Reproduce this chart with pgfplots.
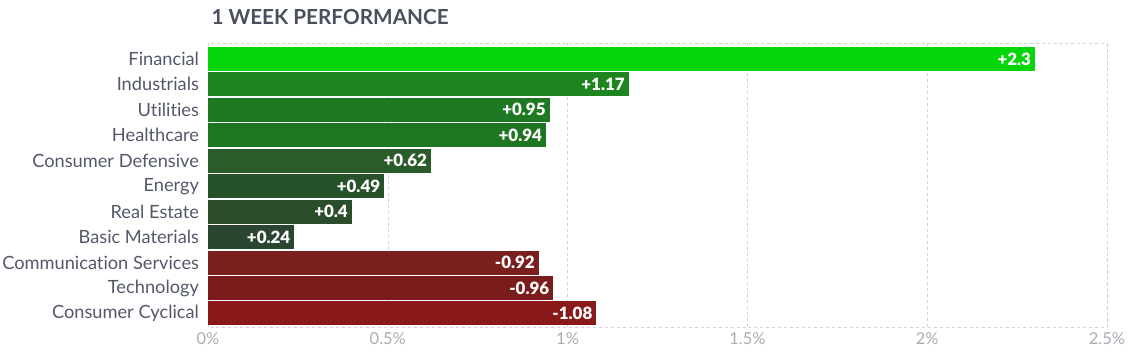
\documentclass[border=0pt]{standalone}
\usepackage{pgfplots}
\pgfplotsset{compat=1.18}
\usepackage{fontspec}
\setmainfont[Ligatures=NoCommon]{Lato}
\newfontfamily\heavyfont[Ligatures=NoCommon]{Lato Black}
\definecolor{cFin}{HTML}{04D60A}
\definecolor{cInd}{HTML}{1E8420}
\definecolor{cUti}{HTML}{1E7A22}
\definecolor{cHea}{HTML}{1F7620}
\definecolor{cCDe}{HTML}{2A5C2A}
\definecolor{cEne}{HTML}{275229}
\definecolor{cRea}{HTML}{2A4E2C}
\definecolor{cBas}{HTML}{2B4630}
\definecolor{cCom}{HTML}{7A1E1E}
\definecolor{cTec}{HTML}{7B1C1C}
\definecolor{cCyc}{HTML}{8A1A1A}
\definecolor{lblgray}{HTML}{535869}
\definecolor{tickgray}{HTML}{ABABB3}
\definecolor{titlegray}{HTML}{4A4F5E}
\definecolor{gridgray}{HTML}{D2D2D2}
\begin{document}
\begin{tikzpicture}
\useasboundingbox (-208bp,-28.3bp) rectangle (926bp,327.7bp);
\begin{axis}[
  at={(0,0)}, anchor=south west,
  scale only axis, width=899bp, height=284.4bp,
  xmin=0, xmax=2.5, ymin=-0.613, ymax=10.56,
  y dir=reverse,
  xtick={0,0.5,1,1.5,2,2.5},
  xticklabels={0\%,0.5\%,1\%,1.5\%,2\%,2.5\%},
  ytick={0,...,10},
  yticklabels={Financial,Industrials,Utilities,Healthcare,Consumer Defensive,Energy,Real Estate,Basic Materials,Communication Services,Technology,Consumer Cyclical},
  major tick length=0pt,
  xmajorgrids,
  grid style={gridgray, dashed, line width=0.6pt},
  axis line style={gridgray, dashed, line width=0.6pt},
  xticklabel style={font=\fontsize{16.5}{18}\selectfont, text=tickgray, yshift=-1bp},
  yticklabel style={font=\fontsize{18.3}{20}\selectfont, text=lblgray, xshift=-5.5bp},
  title={\bfseries 1 WEEK PERFORMANCE},
  title style={at={(0,1)}, anchor=base west, yshift=13bp, font=\fontsize{20.8}{22}\selectfont, text=titlegray},
  point meta=explicit symbolic,
  nodes near coords,
  every node near coord/.append style={anchor=east, xshift=-0.5bp, text=white, font=\heavyfont\fontsize{17}{19}\selectfont},
  clip=false,
]
\addplot[xbar, bar shift=0pt, bar width=24bp, draw=none, fill=cFin] coordinates {(2.3,0) [+2.3]};
\addplot[xbar, bar shift=0pt, bar width=24bp, draw=none, fill=cInd] coordinates {(1.17,1) [+1.17]};
\addplot[xbar, bar shift=0pt, bar width=24bp, draw=none, fill=cUti] coordinates {(0.95,2) [+0.95]};
\addplot[xbar, bar shift=0pt, bar width=24bp, draw=none, fill=cHea] coordinates {(0.94,3) [+0.94]};
\addplot[xbar, bar shift=0pt, bar width=24bp, draw=none, fill=cCDe] coordinates {(0.62,4) [+0.62]};
\addplot[xbar, bar shift=0pt, bar width=24bp, draw=none, fill=cEne] coordinates {(0.49,5) [+0.49]};
\addplot[xbar, bar shift=0pt, bar width=24bp, draw=none, fill=cRea] coordinates {(0.4,6) [+0.4]};
\addplot[xbar, bar shift=0pt, bar width=24bp, draw=none, fill=cBas] coordinates {(0.24,7) [+0.24]};
\addplot[xbar, bar shift=0pt, bar width=24bp, draw=none, fill=cCom] coordinates {(0.92,8) [-0.92]};
\addplot[xbar, bar shift=0pt, bar width=24bp, draw=none, fill=cTec] coordinates {(0.96,9) [-0.96]};
\addplot[xbar, bar shift=0pt, bar width=24bp, draw=none, fill=cCyc] coordinates {(1.08,10) [-1.08]};
\end{axis}
\end{tikzpicture}
\end{document}
